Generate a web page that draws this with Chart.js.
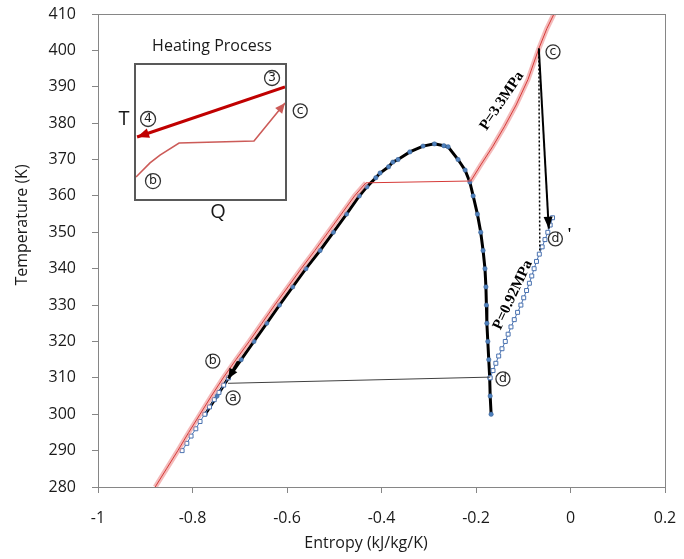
<!DOCTYPE html>
<html>
<head>
<meta charset="utf-8">
<script src="https://cdn.jsdelivr.net/npm/chart.js@4.4.0/dist/chart.umd.min.js"></script>
<style>
body { margin: 0; background: #fff; }
#wrap { position: relative; width: 684px; height: 559px; }
#wrap canvas { display: block; }
#inset { position: absolute; left: 134px; top: 63px; width: 153px; height: 138px; border: 2px solid #595959; box-sizing: border-box; background: #fff; }
.lbl { position: absolute; font-family: 'Open Sans', sans-serif; color: #1a1a1a; white-space: nowrap; transform: translate(-50%, -50%); }
</style>
</head>
<body>
<div id="wrap">
  <canvas id="main" width="684" height="559"></canvas>
  <div id="inset"><canvas id="insetChart" width="149" height="134"></canvas></div>
  <div class="lbl" style="left:212px;top:45px;font-size:16px;">Heating Process</div>
  <div class="lbl" style="left:124px;top:117px;font-size:20px;">T</div>
  <div class="lbl" style="left:218px;top:210px;font-size:20px;">Q</div>
</div>
<script>
'use strict';

// axes
var xTickValues = [-1, -0.8, -0.6, -0.4, -0.2, 0, 0.2];
var xTickLabels = ['-1', '-0.8', '-0.6', '-0.4', '-0.2', '0', '0.2'];
var yTickValues = [280, 290, 300, 310, 320, 330, 340, 350, 360, 370, 380, 390, 400, 410];
var yTickLabels = ['280', '290', '300', '310', '320', '330', '340', '350', '360', '370', '380', '390', '400', '410'];

// saturation dome
var domeS = [-0.773, -0.748, -0.724, -0.697, -0.670, -0.643, -0.616, -0.588, -0.560, -0.530, -0.502, -0.474, -0.447, -0.431, -0.412, -0.403, -0.385, -0.376, -0.365, -0.340, -0.312, -0.288, -0.268, -0.259, -0.238, -0.223, -0.213, -0.206, -0.197, -0.190, -0.185, -0.181, -0.179, -0.178, -0.177, -0.175, -0.173, -0.171, -0.170, -0.168];
var domeT = [300, 305, 310, 315, 320, 325, 330, 335, 340, 345, 350, 355, 360, 362.5, 365, 366.3, 368, 369.3, 370, 372.1, 373.7, 374.3, 373.8, 373.5, 370, 367.1, 363.8, 360, 355, 350, 345, 340, 335, 330, 325, 320, 315, 310, 305, 300];

// P = 3.3 MPa isobar
var hiLiqS = [-0.879, -0.855, -0.831, -0.808, -0.784, -0.760, -0.735, -0.708, -0.680, -0.653, -0.626, -0.598, -0.570, -0.541, -0.513, -0.485, -0.457, -0.433];
var hiLiqT = [280, 285, 290, 295, 300, 305, 310, 315, 320, 325, 330, 335, 340, 345, 350, 355, 360, 363.6];
var hiVapS = [-0.211, -0.190, -0.165, -0.140, -0.115, -0.090, -0.067, -0.050, -0.035, -0.028];
var hiVapT = [364.1, 368.5, 373.5, 379, 385, 392, 400.5, 406, 410, 412];

// P = 0.92 MPa isobar
var loLiqS = [-0.822, -0.812, -0.803, -0.793, -0.784, -0.774, -0.764, -0.754, -0.744, -0.734, -0.724];
var loLiqT = [290, 292, 294, 296, 298, 300, 302, 304, 306, 308, 310];
var loVapS = [-0.170, -0.164, -0.158, -0.152, -0.145, -0.138, -0.132, -0.126, -0.119, -0.112, -0.105, -0.099, -0.093, -0.087, -0.082, -0.077, -0.072, -0.066, -0.060, -0.054, -0.048, -0.043, -0.038];
var loVapT = [310, 312, 314, 316, 318, 320, 322, 324, 326, 328, 330, 332, 334, 336, 338, 340, 342, 344, 346, 348, 350, 352, 354];

// cycle lines
var condS = [-0.725, -0.170];
var condT = [308.5, 310.2];
var expS = [-0.067, -0.046];
var expT = [400.5, 351];
var isenS = [-0.067, -0.065];
var isenT = [400.5, 345];
var pumpS = [-0.703, -0.724];
var pumpT = [314.5, 309.8];

// point labels (circled letters)
var ptText = ['c', 'd', 'd', 'a', 'b', 'c'];
var ptS = [-0.037, -0.032, -0.143, -0.714, -0.757, -0.572];
var ptT = [399.6, 348.2, 309.7, 304.5, 314.6, 383.4];
var primeS = [-0.002];
var primeT = [349.3];
var pText = ['P=3.3MPa', 'P=0.92MPa'];
var pS = [-0.145, -0.122];
var pT = [386.1, 332.8];
var pAngle = [-56, -65];

// inset (heating process, Q-T)
var insetHotQ = [1.0, 0.007];
var insetHotT = [0.836, 0.463];
var insetColdQ = [0, 0.094, 0.161, 0.289, 0.792, 1.0];
var insetColdT = [0.164, 0.269, 0.328, 0.418, 0.433, 0.716];
var insetText = ['3', '4', 'b'];
var insetQ = [0.913, 0.081, 0.114];
var insetT = [0.903, 0.597, 0.134];

function pts(xs, ys) {
  var out = [];
  for (var i = 0; i < xs.length; i++) {
    out.push({ x: xs[i], y: ys[i] });
  }
  return out;
}

function circled(ctx, text, x, y, r) {
  ctx.beginPath();
  ctx.arc(x, y, r, 0, Math.PI * 2);
  ctx.fillStyle = '#fff';
  ctx.fill();
  ctx.lineWidth = 1.3;
  ctx.strokeStyle = '#333';
  ctx.stroke();
  ctx.fillStyle = '#222';
  ctx.font = '12.5px "DejaVu Sans"';
  ctx.textAlign = 'center';
  ctx.textBaseline = 'middle';
  ctx.fillText(text, x, y);
}

var arrowPlugin = {
  id: 'arrows',
  afterDatasetsDraw: function (chart) {
    var ctx = chart.ctx;
    chart.data.datasets.forEach(function (ds, i) {
      if (!ds.arrowHead) return;
      var p = chart.getDatasetMeta(i).data;
      var a = p[p.length - 2], b = p[p.length - 1];
      var ang = Math.atan2(b.y - a.y, b.x - a.x);
      var L = ds.arrowHead[0], W = ds.arrowHead[1];
      var c = Math.cos(ang), s = Math.sin(ang);
      ctx.save();
      ctx.fillStyle = ds.borderColor;
      ctx.beginPath();
      ctx.moveTo(b.x, b.y);
      ctx.lineTo(b.x - L * c + W * s, b.y - L * s - W * c);
      ctx.lineTo(b.x - L * c - W * s, b.y - L * s + W * c);
      ctx.closePath();
      ctx.fill();
      ctx.restore();
    });
  }
};

var labelPlugin = {
  id: 'labels',
  afterDraw: function (chart) {
    var ctx = chart.ctx;
    var xs = chart.scales.x, ys = chart.scales.y;
    var area = chart.chartArea;
    ctx.save();
    // plot frame
    ctx.strokeStyle = '#868686';
    ctx.lineWidth = 1;
    ctx.strokeRect(area.left + 0.5, area.top + 0.5, area.right - area.left, area.bottom - area.top);

    for (var i = 0; i < ptText.length; i++) {
      circled(ctx, ptText[i], xs.getPixelForValue(ptS[i]), ys.getPixelForValue(ptT[i]), 7);
    }
    ctx.fillStyle = '#000';
    ctx.font = 'bold 16px "Liberation Serif"';
    ctx.fillText('\'', xs.getPixelForValue(primeS[0]), ys.getPixelForValue(primeT[0]));

    ctx.font = 'bold 15px "Liberation Serif"';
    for (var j = 0; j < pText.length; j++) {
      ctx.save();
      ctx.translate(xs.getPixelForValue(pS[j]), ys.getPixelForValue(pT[j]));
      ctx.rotate(pAngle[j] * Math.PI / 180);
      ctx.fillText(pText[j], 0, 0);
      ctx.restore();
    }

    // axis titles
    ctx.fillStyle = '#1a1a1a';
    ctx.font = '16px "Open Sans"';
    ctx.fillText('Entropy (kJ/kg/K)', area.left + 268, chart.height - 16);
    ctx.save();
    ctx.translate(22, area.top + 211);
    ctx.rotate(-Math.PI / 2);
    ctx.fillText('Temperature (K)', 0, 0);
    ctx.restore();
    ctx.restore();
  }
};

var tickFont = { family: 'Open Sans', size: 16 };
var bandColor = 'rgba(236,140,140,0.6)';

new Chart(document.getElementById('main').getContext('2d'), {
  type: 'scatter',
  data: {
    datasets: [
      { data: pts(expS, expT), showLine: true, borderColor: '#000', borderWidth: 2, pointRadius: 0, arrowHead: [12, 4.5], order: 0 },
      { data: pts(pumpS, pumpT), showLine: true, borderColor: '#000', borderWidth: 3, pointRadius: 0, arrowHead: [10, 4.5], order: 0 },
      { data: pts(isenS, isenT), showLine: true, borderColor: '#000', borderWidth: 1.5, borderDash: [2, 2], pointRadius: 0, order: 1 },
      { data: pts(condS, condT), showLine: true, borderColor: '#404040', borderWidth: 1, pointRadius: 0, order: 1 },
      { data: pts(hiLiqS.concat(hiVapS), hiLiqT.concat(hiVapT)), showLine: true, borderColor: '#d63a38', borderWidth: 1, pointRadius: 0, order: 2 },
      { data: pts(hiLiqS, hiLiqT), showLine: true, borderColor: bandColor, borderWidth: 5, pointRadius: 0, order: 3 },
      { data: pts(hiVapS, hiVapT), showLine: true, borderColor: bandColor, borderWidth: 5, pointRadius: 0, order: 3 },
      { data: pts(loLiqS, loLiqT), showLine: true, borderColor: '#4a72b0', borderWidth: 1, pointStyle: 'rect', pointRadius: 2.8, pointBackgroundColor: '#fff', pointBorderColor: '#4a72b0', pointBorderWidth: 1, order: 4 },
      { data: pts(loVapS, loVapT), showLine: true, borderColor: '#4a72b0', borderWidth: 1, pointStyle: 'rect', pointRadius: 2.8, pointBackgroundColor: '#fff', pointBorderColor: '#4a72b0', pointBorderWidth: 1, order: 4 },
      { data: pts(domeS, domeT), showLine: true, borderColor: '#000', borderWidth: 3, pointRadius: 2.2, pointBackgroundColor: '#4f81bd', pointBorderColor: '#3b6296', pointBorderWidth: 0.5, order: 5 }
    ]
  },
  options: {
    responsive: false,
    animation: false,
    layout: { padding: { top: 14, right: 19, left: 0, bottom: 0 } },
    plugins: { legend: { display: false }, tooltip: { enabled: false } },
    scales: {
      x: {
        type: 'linear',
        min: xTickValues[0],
        max: xTickValues[xTickValues.length - 1],
        afterFit: function (s) { s.height = 72; s.paddingLeft = 0; s.paddingRight = 0; },
        afterBuildTicks: function (s) { s.ticks = xTickValues.map(function (v) { return { value: v }; }); },
        ticks: { font: tickFont, color: '#1a1a1a', padding: 16, maxRotation: 0, callback: function (v, i) { return xTickLabels[i]; } },
        grid: { drawOnChartArea: false, drawTicks: true, tickLength: 6, color: '#868686' },
        border: { color: '#868686' }
      },
      y: {
        type: 'linear',
        min: yTickValues[0],
        max: yTickValues[yTickValues.length - 1],
        afterFit: function (s) { s.width = 98; s.paddingTop = 0; s.paddingBottom = 0; },
        afterBuildTicks: function (s) { s.ticks = yTickValues.map(function (v) { return { value: v }; }); },
        ticks: { font: tickFont, color: '#1a1a1a', padding: 16, callback: function (v, i) { return yTickLabels[i]; } },
        grid: { drawOnChartArea: false, drawTicks: true, tickLength: 6, color: '#868686' },
        border: { color: '#868686' }
      }
    }
  },
  plugins: [arrowPlugin, labelPlugin]
});

var insetLabelPlugin = {
  id: 'insetLabels',
  afterDraw: function (chart) {
    var ctx = chart.ctx;
    ctx.save();
    for (var i = 0; i < insetText.length; i++) {
      circled(ctx, insetText[i], chart.scales.x.getPixelForValue(insetQ[i]), chart.scales.y.getPixelForValue(insetT[i]), 7.5);
    }
    ctx.restore();
  }
};

new Chart(document.getElementById('insetChart').getContext('2d'), {
  type: 'scatter',
  data: {
    datasets: [
      { data: pts(insetHotQ, insetHotT), showLine: true, borderColor: '#c00000', borderWidth: 3, pointRadius: 0, arrowHead: [12, 5], clip: false },
      { data: pts(insetColdQ, insetColdT), showLine: true, borderColor: '#cc5b58', borderWidth: 1.6, pointRadius: 0, arrowHead: [10, 4.5], clip: false }
    ]
  },
  options: {
    responsive: false,
    animation: false,
    layout: { padding: 0 },
    plugins: { legend: { display: false }, tooltip: { enabled: false } },
    scales: {
      x: { type: 'linear', min: 0, max: 1, display: false },
      y: { type: 'linear', min: 0, max: 1, display: false }
    }
  },
  plugins: [arrowPlugin, insetLabelPlugin]
});
</script>
</body>
</html>
